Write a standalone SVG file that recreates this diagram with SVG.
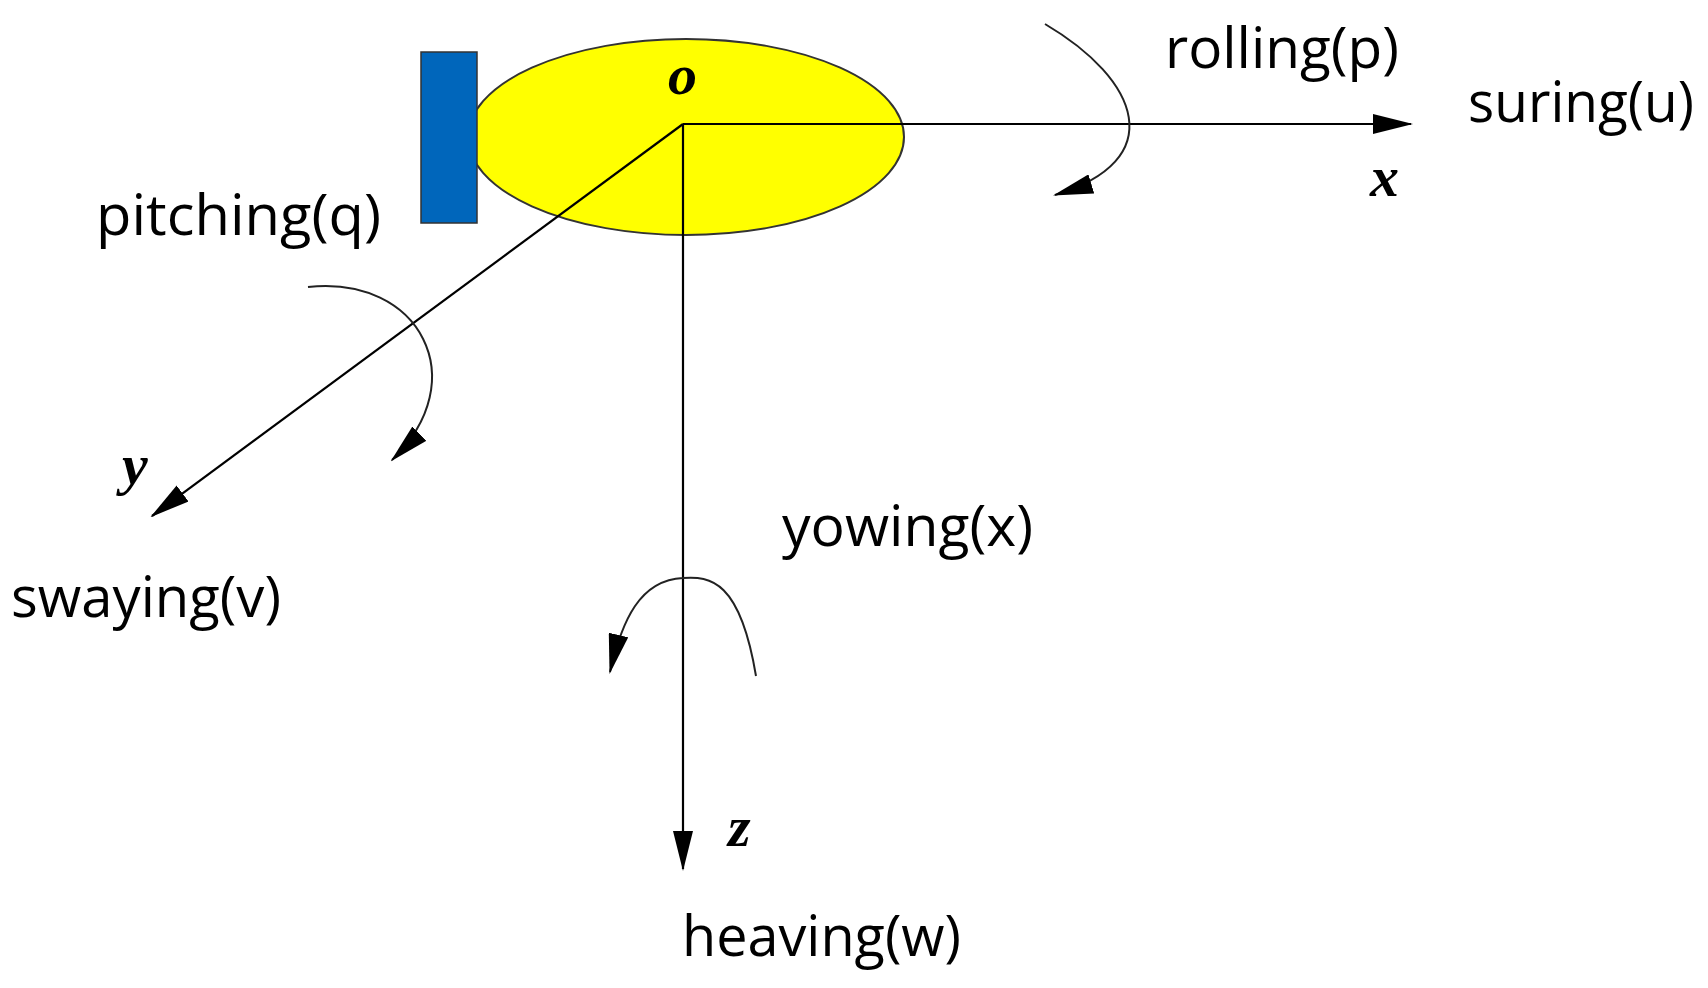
<svg xmlns="http://www.w3.org/2000/svg" width="1708" height="988" viewBox="0 0 1708 988">
<style>
.ax{stroke:#000;stroke-width:2.2;fill:none}
.cv{stroke:#222;stroke-width:2;fill:none}
.lb{font-family:"Open Sans","Noto Sans",sans-serif;font-size:56px;fill:#000}
.ax-l{font-family:"Liberation Serif",serif;font-style:italic;font-weight:bold;font-size:58px;fill:#000}
</style>
<defs>
<marker id="ab" viewBox="0 0 40 20" refX="38" refY="10" markerWidth="40" markerHeight="20" markerUnits="userSpaceOnUse" orient="auto"><path d="M0,0L40,10L0,20z" fill="#000"/></marker>
</defs>
<rect width="1708" height="988" fill="#fff"/>
<g id="body">
<ellipse cx="686" cy="137" rx="218" ry="98" fill="#ffff00" stroke="#333" stroke-width="2"/>
<rect x="421" y="52" width="56" height="171" fill="#0066bb" stroke="#333" stroke-width="1.5"/>
</g>
<g id="connectors">
<path class="ax" d="M683,124H1411" marker-end="url(#ab)"/>
<path class="ax" d="M683,124V869" marker-end="url(#ab)"/>
<path class="ax" d="M683,124L152,516" marker-end="url(#ab)"/>
<path class="cv" d="M1045,24C1140,80 1170,160 1055,195" marker-end="url(#ab)"/>
<path class="cv" d="M308,287C420,275 475,380 392,460" marker-end="url(#ab)"/>
<path class="cv" d="M756,676C740,580 710,576 683,578C640,580 622,620 610,672" marker-end="url(#ab)"/>
</g>
<g id="labels">
<text class="ax-l" x="668" y="94" font-size="48">o</text>
<text class="ax-l" x="1370" y="196">x</text>
<text class="ax-l" x="122" y="484">y</text>
<text class="ax-l" x="728" y="846">z</text>
<text class="lb" x="1165" y="68" textLength="234" lengthAdjust="spacingAndGlyphs">rolling(p)</text>
<text class="lb" x="1468" y="122" textLength="226" lengthAdjust="spacingAndGlyphs">suring(u)</text>
<text class="lb" x="96" y="235" textLength="285" lengthAdjust="spacingAndGlyphs">pitching(q)</text>
<text class="lb" x="11" y="617" textLength="270" lengthAdjust="spacingAndGlyphs">swaying(v)</text>
<text class="lb" x="782" y="546" textLength="251" lengthAdjust="spacingAndGlyphs">yowing(x)</text>
<text class="lb" x="682" y="956" textLength="279" lengthAdjust="spacingAndGlyphs">heaving(w)</text>
</g>
</svg>
